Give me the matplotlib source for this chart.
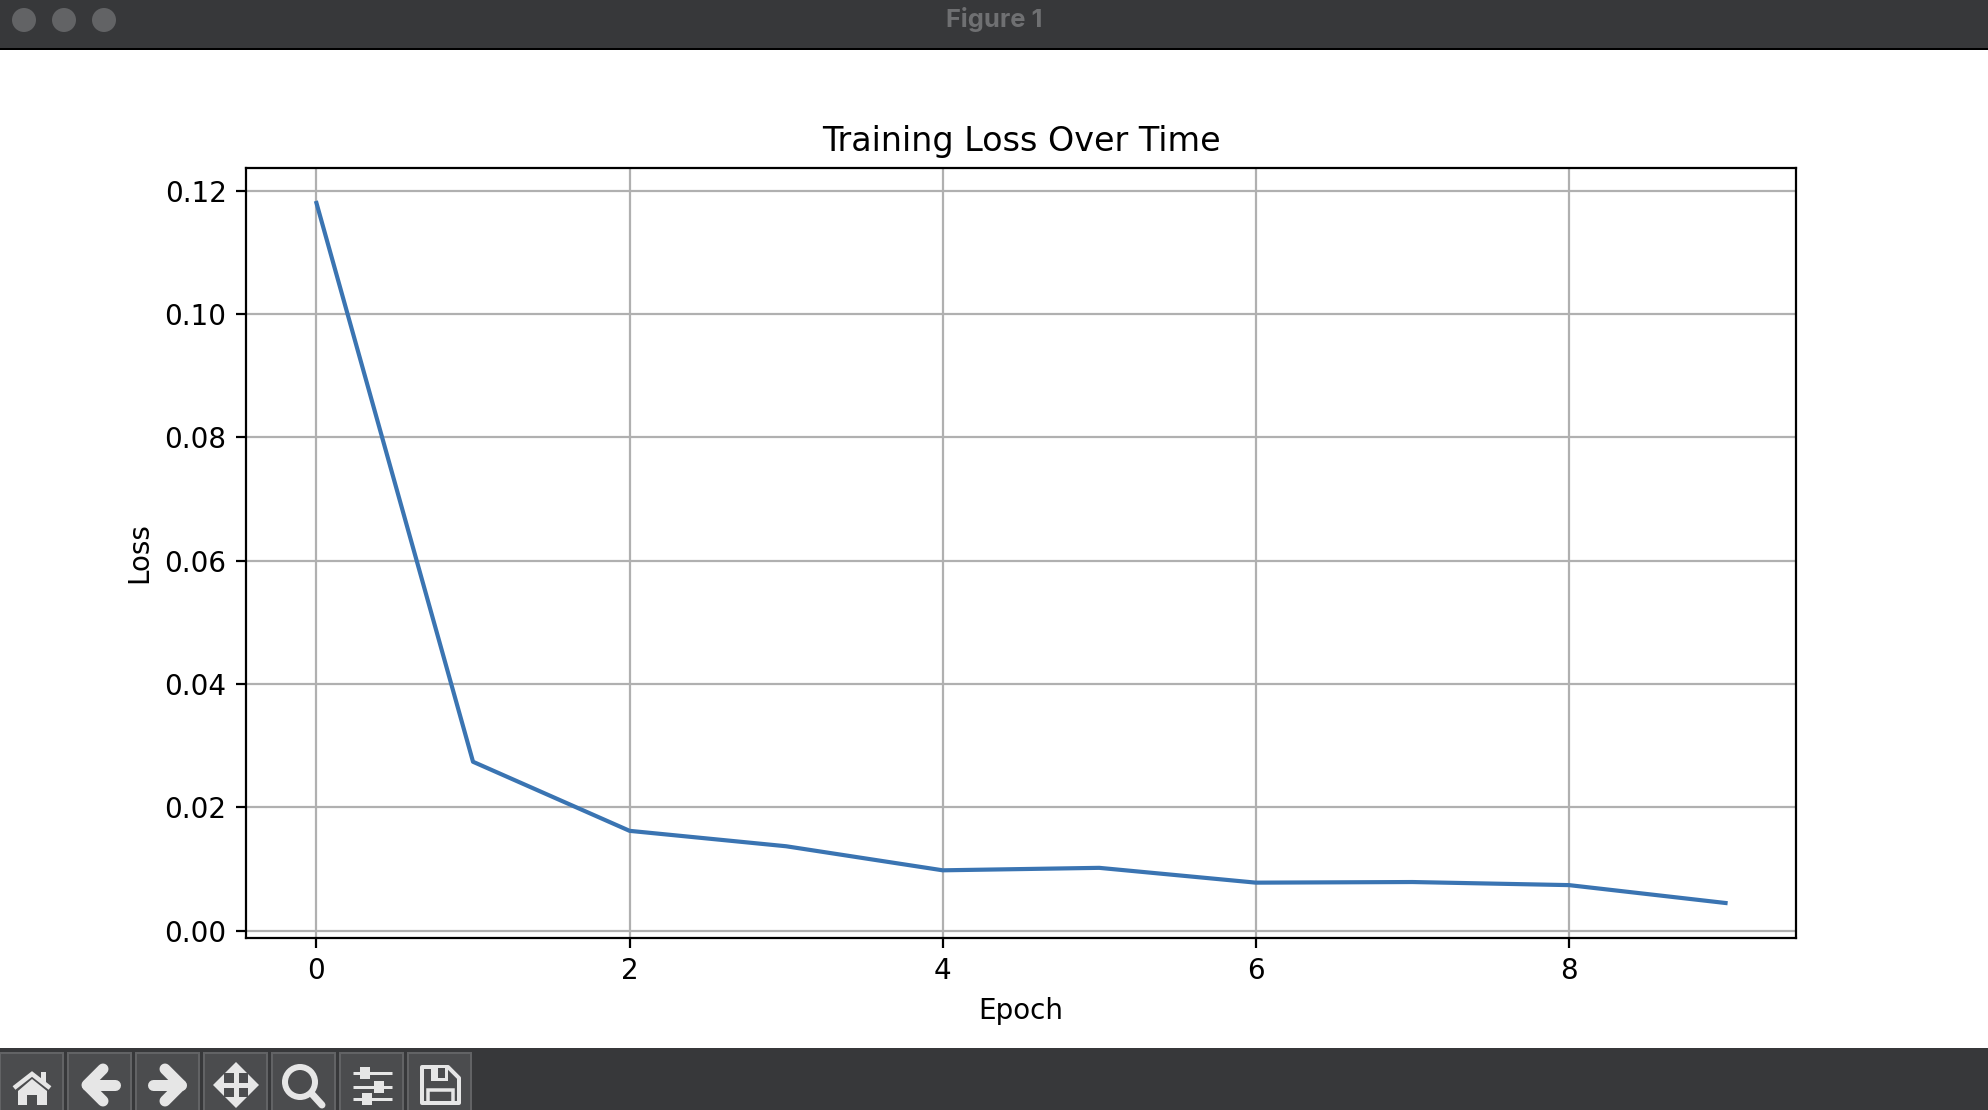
import matplotlib
matplotlib.use("Agg")
import matplotlib.pyplot as plt
from matplotlib.patches import Rectangle, Circle, Polygon

epochs = [0, 1, 2, 3, 4, 5, 6, 7, 8, 9]
loss = [0.1180, 0.0274, 0.0162, 0.0137, 0.0098, 0.0102, 0.0078, 0.0079, 0.0074, 0.0045]

W, H, DPI = 1988, 1110, 200
fig = plt.figure(figsize=(W / DPI, H / DPI), dpi=DPI)

ax = fig.add_axes([246 / W, 1 - 938 / H, (1796 - 246) / W, (938 - 168) / H])
ax.plot(epochs, loss, color="#3a74b2", linewidth=1.5)
ax.set_title("Training Loss Over Time")
ax.set_xlabel("Epoch")
ax.set_ylabel("Loss")
ax.grid(True)

# window chrome, in pixel coordinates
ui = fig.add_axes([0, 0, 1, 1], zorder=5)
ui.set_xlim(0, W)
ui.set_ylim(H, 0)
ui.axis("off")
BAR = "#37383a"
BTN = "#4b4c4e"
EDGE = "#626365"
ICON = "#e6e6e6"
px = 72 / DPI

ui.add_patch(Rectangle((0, 0), W, 48, color=BAR, lw=0))
ui.add_patch(Rectangle((0, 48), W, 1.5, color="#000000", lw=0))
for cx in (24, 64, 104):
    ui.add_patch(Circle((cx, 20), 12, color="#626365", lw=0))
ui.text(994.5, 19, "Figure 1", color="#6f7072", family="Inter", weight="bold",
        fontsize=9.2, ha="center", va="center")

ui.add_patch(Rectangle((0, 1048), W, 62, color=BAR, lw=0))
for bx in (0, 68, 136, 204, 272, 340, 408):
    ui.add_patch(Rectangle((bx - 0.5, 1052.5), 63, 70, fc=BTN, ec=EDGE, lw=2 * px))


def stroke(xs, ys, w, cap="round", join="round"):
    ui.plot(xs, ys, color=ICON, lw=w * px, solid_capstyle=cap, solid_joinstyle=join)


def poly(pts):
    ui.add_patch(Polygon(pts, closed=True, fc=ICON, ec="none"))


# home
stroke([14, 32, 50], [1088, 1074, 1088], 4.5, cap="butt", join="miter")
poly([(18, 1091), (32, 1079), (47, 1091), (47, 1105), (37, 1105), (37, 1095),
      (27, 1095), (27, 1105), (18, 1105)])
poly([(41, 1072), (46, 1072), (46, 1083), (41, 1079)])
# back
stroke([103, 87, 103], [1069, 1085, 1101], 11)
stroke([87, 115], [1085, 1085], 11)
# forward
stroke([165, 181, 165], [1069, 1085, 1101], 11)
stroke([153, 181], [1085, 1085], 11)
# move
stroke([222, 250], [1085, 1085], 5, cap="butt")
stroke([236, 236], [1070, 1100], 5, cap="butt")
poly([(236, 1062), (247, 1073), (225, 1073)])
poly([(236, 1108), (247, 1097), (225, 1097)])
poly([(213, 1085), (224, 1074), (224, 1096)])
poly([(259, 1085), (248, 1074), (248, 1096)])
# zoom
ui.add_patch(Circle((300, 1082), 15, fc="none", ec=ICON, lw=6 * px))
stroke([312, 322], [1094, 1105], 7)
# sliders
for yy, kx in zip((1073, 1087, 1099), (365, 379, 367)):
    stroke([353, 392], [yy, yy], 3, cap="butt")
    ui.add_patch(Rectangle((kx - 5, yy - 6), 10, 12, fc=ICON, ec="none"))
# save
ui.add_patch(Polygon([(422, 1067), (448, 1067), (459, 1078), (459, 1103), (422, 1103)],
                     closed=True, fc="none", ec=ICON, lw=4 * px, joinstyle="round"))
poly([(431, 1067), (448, 1067), (448, 1081), (431, 1081)])
ui.add_patch(Rectangle((438, 1068), 7, 10, fc=BTN, ec="none"))
ui.add_patch(Rectangle((428, 1090), 25, 13, fc="none", ec=ICON, lw=3.5 * px))

fig.savefig("out.png", dpi=DPI)
